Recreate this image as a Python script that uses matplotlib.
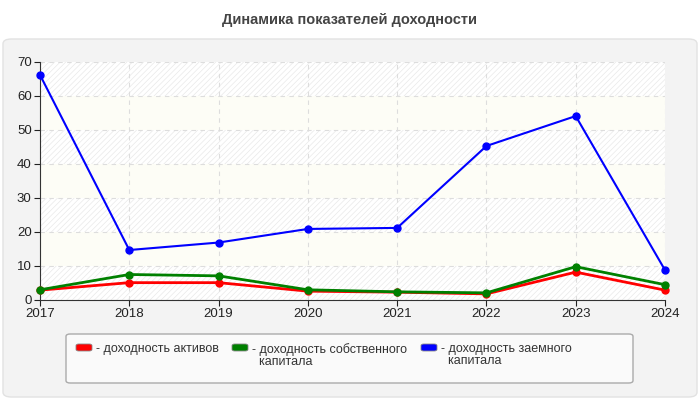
import numpy as np
import matplotlib.pyplot as plt
from matplotlib.patches import FancyBboxPatch

years = [2017, 2018, 2019, 2020, 2021, 2022, 2023, 2024]
assets = [2.9, 5.1, 5.1, 2.6, 2.3, 1.8, 8.2, 2.9]
equity = [3.0, 7.5, 7.1, 3.0, 2.4, 2.1, 9.8, 4.5]
borrowed = [66.2, 14.7, 16.9, 20.9, 21.2, 45.3, 54.1, 8.8]

labels = ["- доходность активов",
          "- доходность собственного\n  капитала",
          "- доходность заемного\n  капитала"]
colors = ["#ff0000", "#008000", "#0000ff"]
yticks = [0, 10, 20, 30, 40, 50, 60, 70]

plt.rcParams['font.family'] = ['Liberation Sans', 'DejaVu Sans']
plt.rcParams['hatch.linewidth'] = 0.5

fig = plt.figure(figsize=(7, 4), dpi=100)
fig.patch.set_facecolor("white")

# grey rounded panel behind the chart
panel = FancyBboxPatch((3 / 700, 3 / 400), 694 / 700, 358 / 400,
                       boxstyle="round,pad=0,rounding_size=0.012",
                       transform=fig.transFigure, facecolor="#f3f3f3",
                       edgecolor="#e2e2e2", linewidth=1, zorder=-10)
fig.patches.append(panel)

fig.text(0.5, 0.95, "Динамика показателей доходности", ha="center", va="center",
         fontsize=10.5, fontweight="bold", color="#444444")

ax = fig.add_axes([40 / 700, 100 / 400, 625 / 700, 238 / 400])
ax.set_zorder(1)
ax.set_facecolor("#fdfdf6")

# alternating bands: hatched / plain
for i in range(0, len(yticks) - 1, 2):
    ax.axhspan(yticks[i], yticks[i + 1], facecolor="white", edgecolor="#e9e9e9",
               hatch="//////", linewidth=0, zorder=0)

ax.plot(years, assets, color=colors[0], lw=2, marker="o", ms=5, zorder=3, clip_on=False)
ax.plot(years, equity, color=colors[1], lw=2, marker="o", ms=5, zorder=4, clip_on=False)
ax.plot(years, borrowed, color=colors[2], lw=1.5, marker="o", ms=5, zorder=5, clip_on=False)

ax.set_xlim(years[0], years[-1])
ax.set_ylim(0, 70)
ax.set_xticks(years)
ax.set_yticks(yticks)
ax.grid(True, ls=(0, (4, 4)), color="#dddddd", lw=0.8, zorder=1)
ax.set_axisbelow(True)
for s in ["top", "right"]:
    ax.spines[s].set_visible(False)
for s in ["left", "bottom"]:
    ax.spines[s].set_color("#333333")
ax.tick_params(axis="both", labelsize=9.5, colors="#222222", length=4, width=0.8, pad=2)

# legend box
lbox = FancyBboxPatch((66 / 700, 17 / 400), 567 / 700, 49 / 400,
                      boxstyle="round,pad=0,rounding_size=0.006",
                      transform=fig.transFigure, facecolor="#fafafa",
                      edgecolor="#aaaaaa", linewidth=1, zorder=1)
fig.patches.append(lbox)
xs = [76, 232, 421]
for x, lab, c in zip(xs, labels, colors):
    sw = FancyBboxPatch((x / 700, 49 / 400), 16 / 700, 7 / 400,
                        boxstyle="round,pad=0,rounding_size=0.004",
                        transform=fig.transFigure, facecolor=c,
                        edgecolor="#888888", linewidth=0.6, zorder=2)
    fig.patches.append(sw)
    fig.text((x + 20) / 700, 57 / 400, lab, ha="left", va="top",
             fontsize=9, color="#333333", linespacing=1.0, zorder=3)

fig.savefig("out.png", dpi=100)
